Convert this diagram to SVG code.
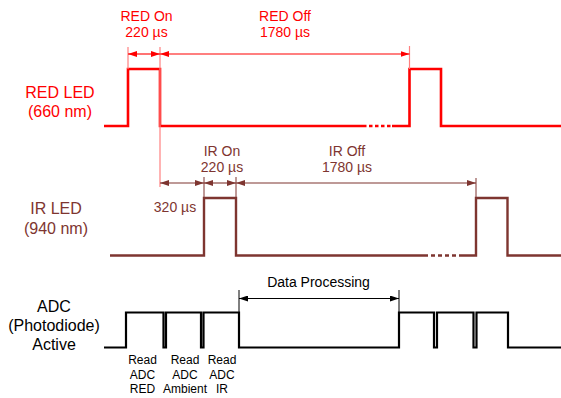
<svg xmlns="http://www.w3.org/2000/svg" width="561" height="398" viewBox="0 0 561 398">
<style>
text{font-family:"Liberation Sans",Arial,sans-serif;text-anchor:middle}
.big{font-size:16px}
.dim{font-size:14px}
.sm{font-size:12px}
.wave{fill:none;stroke-linejoin:miter;stroke-linecap:butt}
.red{fill:#ff0000}
.ir{fill:#7e3530}
.blk{fill:#000}
</style>
<defs>
<marker id="ar" markerWidth="9" markerHeight="6" refX="9" refY="3" orient="auto-start-reverse" markerUnits="userSpaceOnUse"><path d="M0,0 L9,3 L0,6 z" fill="#ff0000"/></marker>
<marker id="ab" markerWidth="9" markerHeight="6" refX="9" refY="3" orient="auto-start-reverse" markerUnits="userSpaceOnUse"><path d="M0,0 L9,3 L0,6 z" fill="#7e3530"/></marker>
<marker id="ak" markerWidth="9" markerHeight="6" refX="9" refY="3" orient="auto-start-reverse" markerUnits="userSpaceOnUse"><path d="M0,0 L9,3 L0,6 z" fill="#000"/></marker>
</defs>

<g id="red-led">
<text class="big red" x="60" y="97.5">RED LED</text>
<text class="big red" x="60" y="116.5">(660 nm)</text>
<path class="wave" stroke="#ff0000" stroke-width="2.6" d="M104,126 H128 V69 H160 V126 H363 M392,126 H409.5 V69 H441 V126 H561"/>
<path class="wave" stroke="#ff0000" stroke-width="2.6" stroke-dasharray="3.5,2.5" d="M363,126 H392"/>
</g>

<g id="ir-led">
<text class="big ir" x="56" y="214">IR LED</text>
<text class="big ir" x="56" y="233.5">(940 nm)</text>
<path class="wave" stroke="#7e3530" stroke-width="2.4" d="M110,255.5 H204 V198 H236 V255.5 H424 M460,255.5 H476 V198 H507.5 V255.5 H561"/>
<path class="wave" stroke="#7e3530" stroke-width="2.4" stroke-dasharray="4,3" d="M424,255.5 H460"/>
</g>

<g id="adc">
<text class="big blk" x="54" y="311.5">ADC</text>
<text class="big blk" x="54" y="331">(Photodiode)</text>
<text class="big blk" x="54" y="350">Active</text>
<path class="wave" stroke="#000" stroke-width="2.2" d="M104,347.5 H126 V312.5 H163.5 V347.5 H166 V312.5 H201 V347.5 H203.5 V312.5 H239 V347.5 H399 V312.5 H434 V347.5 H437 V312.5 H473.5 V347.5 H476.5 V312.5 H508 V347.5 H561"/>
<text class="sm blk" x="142.5" y="363.5">Read</text>
<text class="sm blk" x="142.5" y="378.5">ADC</text>
<text class="sm blk" x="142.5" y="393">RED</text>
<text class="sm blk" x="185" y="363.5">Read</text>
<text class="sm blk" x="185" y="378.5">ADC</text>
<text class="sm blk" x="185" y="393">Ambient</text>
<text class="sm blk" x="222" y="363.5">Read</text>
<text class="sm blk" x="222" y="378.5">ADC</text>
<text class="sm blk" x="222" y="393">IR</text>
</g>

<g id="connectors" fill="none">
<!-- red extension lines -->
<line x1="128" y1="47" x2="128" y2="69" stroke="#ff8080" stroke-width="1.2"/>
<line x1="160" y1="47" x2="160" y2="187" stroke="#ff8080" stroke-width="1.2"/>
<line x1="409.5" y1="46" x2="409.5" y2="69" stroke="#ff8080" stroke-width="1.2"/>
<line x1="128" y1="54" x2="160" y2="54" stroke="#ff0000" stroke-width="1.1" marker-start="url(#ar)" marker-end="url(#ar)"/>
<line x1="160" y1="54" x2="409.5" y2="54" stroke="#ff0000" stroke-width="1.1" marker-start="url(#ar)" marker-end="url(#ar)"/>
<!-- ir extension lines -->
<line x1="204" y1="177" x2="204" y2="198" stroke="#7e3530" stroke-width="1"/>
<line x1="236" y1="177" x2="236" y2="198" stroke="#7e3530" stroke-width="1"/>
<line x1="476" y1="178" x2="476" y2="198" stroke="#7e3530" stroke-width="1"/>
<line x1="160" y1="183" x2="204" y2="183" stroke="#7e3530" stroke-width="1.1" marker-start="url(#ab)" marker-end="url(#ab)"/>
<line x1="204" y1="183" x2="236" y2="183" stroke="#7e3530" stroke-width="1.1" marker-start="url(#ab)" marker-end="url(#ab)"/>
<line x1="236" y1="183" x2="476" y2="183" stroke="#7e3530" stroke-width="1.1" marker-start="url(#ab)" marker-end="url(#ab)"/>
<!-- adc -->
<line x1="239" y1="290" x2="239" y2="312" stroke="#000" stroke-width="1"/>
<line x1="399" y1="290" x2="399" y2="312" stroke="#000" stroke-width="1"/>
<line x1="239" y1="298.5" x2="399" y2="298.5" stroke="#000" stroke-width="1" marker-start="url(#ak)" marker-end="url(#ak)"/>
</g>

<g id="labels">
<text class="dim red" x="146.5" y="21">RED On</text>
<text class="dim red" x="146.5" y="37">220 µs</text>
<text class="dim red" x="285" y="21">RED Off</text>
<text class="dim red" x="285" y="37">1780 µs</text>
<text class="dim ir" x="222" y="156">IR On</text>
<text class="dim ir" x="222" y="172">220 µs</text>
<text class="dim ir" x="347" y="156">IR Off</text>
<text class="dim ir" x="347" y="172">1780 µs</text>
<text class="dim ir" x="175" y="212">320 µs</text>
<text class="dim blk" x="318.5" y="287">Data Processing</text>
</g>
</svg>
